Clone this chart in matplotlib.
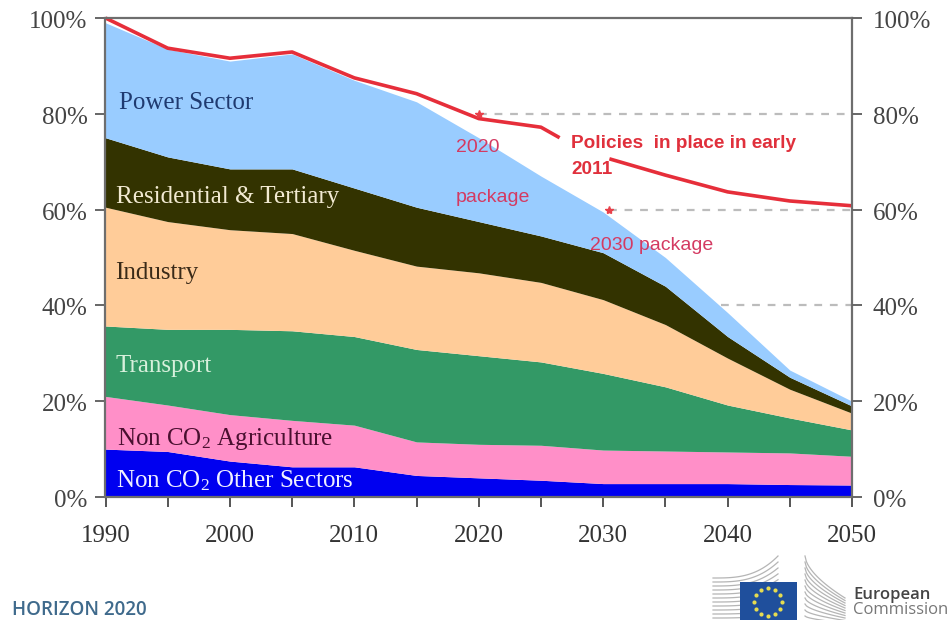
import numpy as np
import matplotlib
matplotlib.use('Agg')
import matplotlib.pyplot as plt
from matplotlib.transforms import ScaledTranslation

plt.rcParams['font.family'] = 'Liberation Serif'
plt.rcParams['mathtext.fontset'] = 'custom'
plt.rcParams['mathtext.rm'] = 'Liberation Serif'
plt.rcParams['mathtext.it'] = 'Liberation Serif'

years = [1990, 1995, 2000, 2005, 2010, 2015, 2020, 2025, 2030, 2035, 2040, 2045, 2050]

# top edge of each stacked band, % of 1990 emissions
other_top = [10, 9.5, 7.5, 6.3, 6.3, 4.5, 4, 3.5, 2.8, 2.8, 2.8, 2.6, 2.5]
agri_top = [21, 19.2, 17.2, 16, 15, 11.5, 11, 10.8, 9.8, 9.6, 9.4, 9.2, 8.5]
transport_top = [35.7, 35, 35, 34.7, 33.5, 30.8, 29.5, 28.2, 25.8, 23, 19.2, 16.5, 14]
industry_top = [60.5, 57.5, 55.8, 55, 51.5, 48.2, 46.8, 44.8, 41.2, 36, 29, 22.5, 17.5]
resid_top = [75, 71, 68.5, 68.5, 64.5, 60.5, 57.5, 54.5, 51, 44, 33.5, 25, 19]
power_top = [99, 93.5, 91, 92.5, 87, 82.5, 75, 67, 59.5, 50, 38.5, 26.5, 20]

# red line, broken where the label sits
policy_x1 = [1990, 1995, 2000, 2005, 2010, 2015, 2020, 2025, 2026.5]
policy_y1 = [100, 93.7, 91.6, 92.9, 87.5, 84.2, 79, 77.2, 75]
policy_x2 = [2030.5, 2035, 2040, 2045, 2050]
policy_y2 = [70.6, 67.2, 63.7, 61.8, 60.8]

# dashed target lines (level, start year)
targets = [(80, 2020), (60, 2030.5), (40, 2039.5)]
package_x = [2020, 2030.5]
package_y = [80, 60]

pct_ticks = [0, 20, 40, 60, 80, 100]
pct_labels = ['0%', '20%', '40%', '60%', '80%', '100%']
year_ticks = [1990, 2000, 2010, 2020, 2030, 2040, 2050]

fig = plt.figure(figsize=(9.53, 6.2), dpi=100)
W, H = 953.0, 620.0
ax = fig.add_axes([105.5 / W, 1 - 497 / H, (852 - 105.5) / W, (497 - 18) / H])

bands = [
    (np.zeros(13), other_top, '#0000f0'),
    (other_top, agri_top, '#ff8fc8'),
    (agri_top, transport_top, '#339966'),
    (transport_top, industry_top, '#ffcc99'),
    (industry_top, resid_top, '#333300'),
    (resid_top, power_top, '#99ccff'),
]
for low, high, col in bands:
    ax.fill_between(years, low, high, color=col, lw=0)

for level, start in targets:
    ax.plot([start, 2050], [level, level], color='#bcbcbc', lw=1.6, dashes=(3.5, 3.5))

ax.plot(policy_x1, policy_y1, color='#e62e3a', lw=2.6, solid_capstyle='butt', clip_on=False)
ax.plot(policy_x2, policy_y2, color='#e62e3a', lw=2.6, solid_capstyle='butt', clip_on=False)
ax.plot(package_x, package_y, ls='none', marker='*', ms=6, color='#e8404a')

ax.set_xlim(1990, 2050)
ax.set_ylim(0, 100)
ax.set_xticks(years, minor=True)
ax.set_xticks(year_ticks)
ax.set_yticks(pct_ticks)
ax.set_yticklabels(pct_labels)
ax.tick_params(axis='x', which='both', length=7, width=1.4, color='#555555', pad=13.5,
               labelsize=18, labelcolor='#333333')
ax.tick_params(axis='y', length=7, width=1.4, color='#666666', pad=6,
               labelsize=18, labelcolor='#444444', right=True)
ax.grid(False)
for s in ax.spines.values():
    s.set_color('#6e6e6e')
    s.set_linewidth(1.6)
    s.set_zorder(5)

# right side labels
ax2 = ax.twinx()
ax2.set_ylim(0, 100)
ax2.set_yticks(pct_ticks)
ax2.set_yticklabels(pct_labels)
ax2.tick_params(axis='y', length=7, width=1.4, color='#666666', pad=8,
                labelsize=18, labelcolor='#444444')
for s in ax2.spines.values():
    s.set_visible(False)

# reference labels sit a touch below their ticks
nudge = ScaledTranslation(0, -1.5 / 100, fig.dpi_scale_trans)
for lab in ax.get_yticklabels() + ax2.get_yticklabels():
    lab.set_transform(lab.get_transform() + nudge)

# overlay in pixel coordinates for the text and logo
ov = fig.add_axes([0, 0, 1, 1])
ov.set_xlim(0, W)
ov.set_ylim(H, 0)
ov.axis('off')
ov.patch.set_alpha(0)

labels = [
    ('Power Sector', 119, 103, '#1f3a70'),
    ('Residential & Tertiary', 116, 197, '#f2ead2'),
    ('Industry', 115, 273, '#3a2a18'),
    ('Transport', 116, 366, '#d8f0dc'),
    ('Non CO$_2$ Agriculture', 117, 439, '#4a1030'),
    ('Non CO$_2$ Other Sectors', 116, 481, '#f0f0ff'),
]
for txt, x, y, col in labels:
    ov.text(x, y, txt, color=col, fontsize=18, va='center', ha='left')

red_sans = ['Liberation Sans']
ov.text(571, 143, 'Policies  in place in early', family=red_sans, fontsize=13.7, fontweight='bold',
        color='#e0303c', va='center')
ov.text(571, 169, '2011', family=red_sans, fontsize=13.7, fontweight='bold', color='#e0303c', va='center')
ov.text(456, 148, '2020', family=red_sans, fontsize=14, color='#d43a62', va='center')
ov.text(456, 197, 'package', family=red_sans, fontsize=14, color='#d43a62', va='center')
ov.text(590, 246, '2030 package', family=red_sans, fontsize=14, color='#d43a62', va='center')

ov.text(12, 610, 'HORIZON 2020', family='Open Sans', fontsize=13.5, fontweight='semibold',
        color='#3f6a8c', va='center')

# European Commission logo
for k in range(11):
    t = np.linspace(0, 1, 30)
    xs = 713 + (778 - 713) * t
    ys = 578 + k * 4 - (22 - k * 0.5) * t ** 3 * (1 - k / 14.0)
    ov.plot(xs, ys, color='#b5b5b5', lw=0.9)
    xr = 805 + (845 - 805) * t
    yr = 556 + k * 6 + (42 - k * 3.5) * t ** 0.6
    ov.plot(xr, yr, color='#b5b5b5', lw=0.9)
ov.fill([740, 797, 797, 740], [582, 582, 620, 620], color='#1f4f9c', lw=0, zorder=3)
ang = np.arange(12) * np.pi / 6
ov.scatter(768 + 14 * np.cos(ang), 602 + 14 * np.sin(ang), s=9, color='#e6dc50', lw=0, zorder=4)
ov.text(853, 595, 'European', family='Open Sans', fontsize=12, fontweight='semibold', color='#444444', va='center')
ov.text(853, 610, 'Commission', family='Open Sans', fontsize=12, color='#777777', va='center')

fig.savefig('out.png', dpi=100)
